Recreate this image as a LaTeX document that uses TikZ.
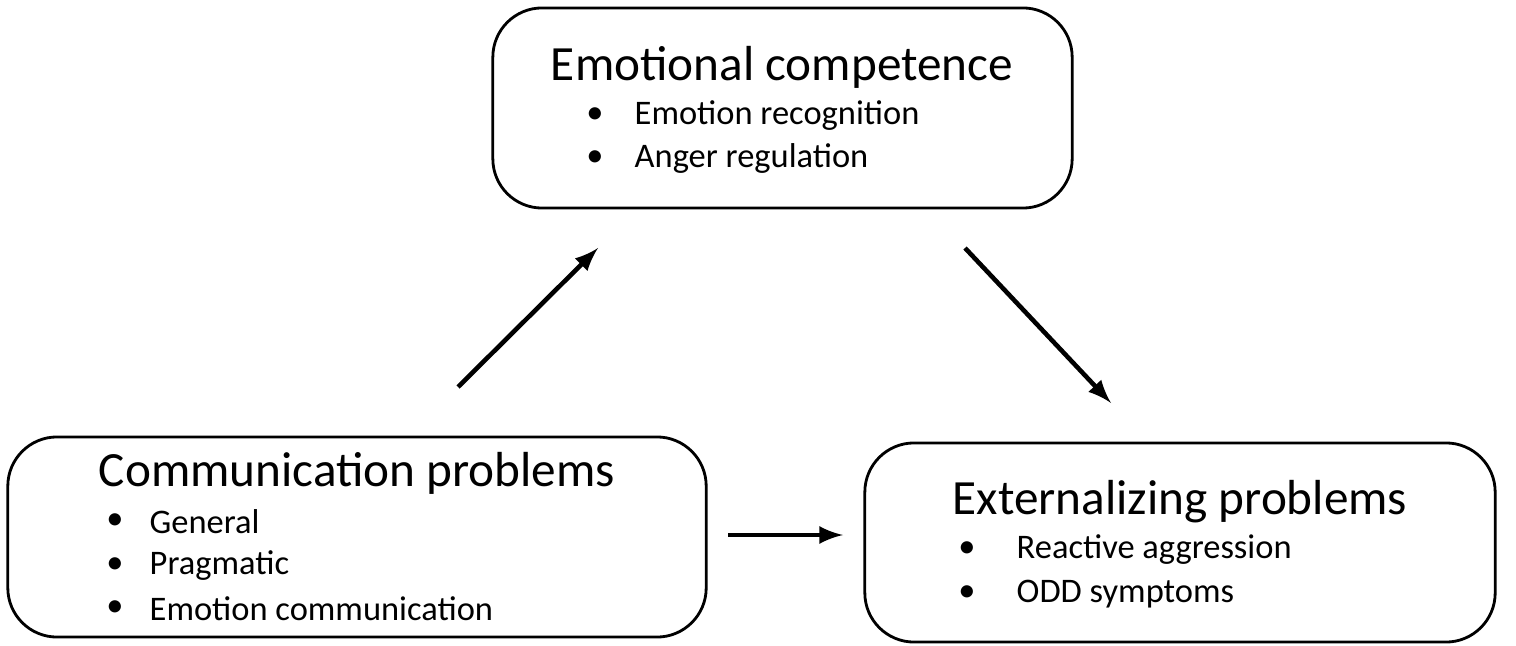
\documentclass[tikz,border=0pt]{standalone}
\usepackage{fontspec}
\setmainfont{Carlito}
\usetikzlibrary{positioning,arrows}

\tikzset{
  box/.style = {draw, line width=0.8pt, rounded corners=14pt, inner sep=0pt},
  head/.style = {font=\fontsize{14}{16}\selectfont},
  item/.style = {anchor=west, inner sep=0pt, font=\fontsize{9.8}{12}\selectfont},
  dot/.style = {inner sep=0pt, font=\fontsize{9.8}{12}\selectfont},
  link/.style = {-latex, line width=1.3pt}
}

\begin{document}
\begin{tikzpicture}[x=0.01cm, y=-0.01cm]
\useasboundingbox (0,0) rectangle (1516,646);
% boxes
\node[box, minimum width=5.79cm, minimum height=2cm] (emo) at (782.5,108) {};
\node[box, minimum width=6.98cm, minimum height=2cm] (com) at (357,537) {};
\node[box, minimum width=6.30cm, minimum height=1.99cm] (ext) at (1180,542.5) {};
% emotional competence
\node[head] (emoT) at (782,67) {Emotional competence};
\node[dot] at (595,116) {\textbullet};
\node[item] (emo1) at (634,116) {Emotion recognition};
\node[dot] at (595,159) {\textbullet};
\node[item] (emo2) at (634,159) {Anger regulation};
% communication problems
\node[head] (comT) at (357,473) {Communication problems};
\node[dot] at (115,522) {\textbullet};
\node[item] (com1) at (149,522) {General};
\node[dot] at (115,566) {\textbullet};
\node[item] (com2) at (149,566) {Pragmatic};
\node[dot] at (115,609) {\textbullet};
\node[item] (com3) at (149,609) {Emotion communication};
% externalizing problems
\node[head] (extT) at (1180,502) {Externalizing problems};
\node[dot] at (967,550) {\textbullet};
\node[item] (ext1) at (1016,550) {Reactive aggression};
\node[dot] at (967,594) {\textbullet};
\node[item] (ext2) at (1016,594) {ODD symptoms};
% arrows
\coordinate (a1) at (458,387);
\coordinate (a2) at (598,248);
\coordinate (b1) at (965,248);
\coordinate (b2) at (1111,403);
\coordinate (c1) at (728,535);
\coordinate (c2) at (843,535);
\draw[link] (a1) -- (a2);
\draw[link] (b1) -- (b2);
\draw[link] (c1) -- (c2);
\end{tikzpicture}
\end{document}
